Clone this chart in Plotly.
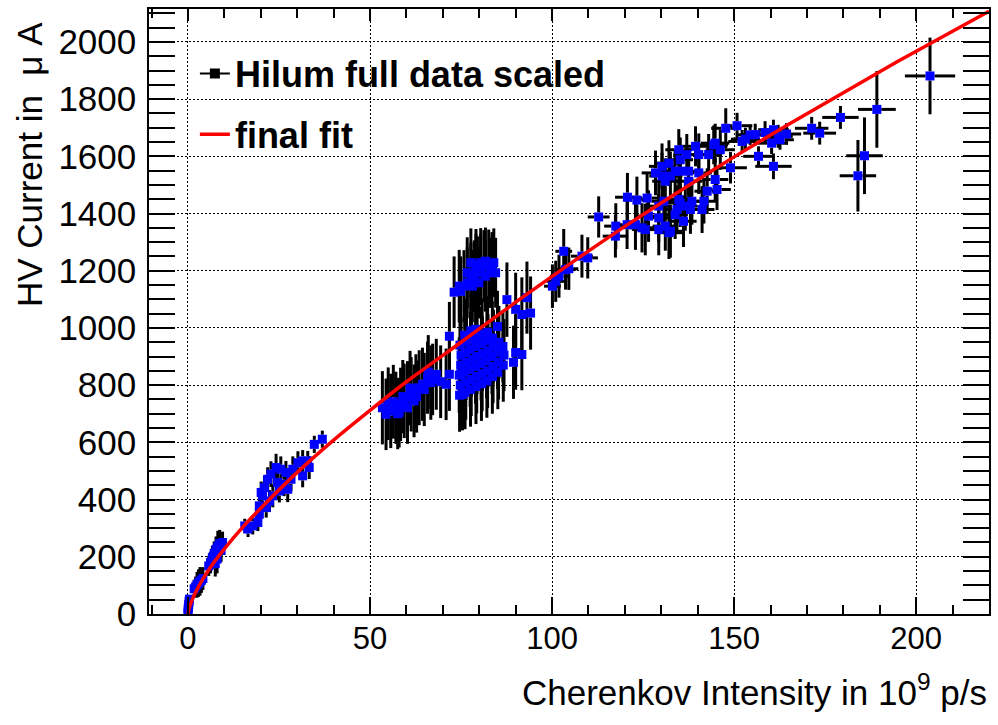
import plotly.graph_objects as go

# ---------------- measurements ----------------
# HV current [uA] versus Cherenkov intensity [1e9 p/s], with uncertainties

# near-zero intensity
ramp0_x = [0.0, 0.05, 0.1, 0.2, 0.3, 0.4]
ramp0_y = [4, 13, 23, 33, 43, 52]
ramp0_ex = [0.2, 0.2, 0.2, 0.2, 0.2, 0.2]
ramp0_ey = [10, 11, 12, 13, 14, 15]

# a few 1e9 p/s
ramp1_x = [1.7, 2.1, 2.5, 2.9, 3.3, 3.7, 4.1]
ramp1_y = [88, 95, 102, 108, 114, 118, 124]
ramp1_ex = [0.3, 0.3, 0.3, 0.3, 0.3, 0.3, 0.3]
ramp1_ey = [32, 36, 45, 48, 50, 44, 40]

ramp2_x = [5.7, 6.2, 6.7, 7.2, 7.5, 7.7, 8.0, 8.2, 8.7, 9.1, 9.5]
ramp2_y = [168, 180, 198, 212, 176, 226, 192, 236, 246, 222, 250]
ramp2_ex = [0.3, 0.3, 0.3, 0.3, 0.3, 0.3, 0.3, 0.3, 0.3, 0.3, 0.3]
ramp2_ey = [35, 38, 40, 42, 45, 45, 50, 55, 48, 40, 38]

# 15 - 37
low_x = [15.6, 16.5, 17.8, 19.2, 19.6, 19.6, 20.1, 20.5, 21.0, 21.5, 21.9, 22.4, 22.8, 23.3, 24.2,
         24.6, 25.1, 25.5, 26.4, 26.9, 27.4, 28.3, 28.8, 30.2, 31.5, 31.5, 32.9, 33.3, 34.7, 36.9]
low_y = [308, 297, 308, 320, 349, 378, 425, 413, 442, 372, 471, 395, 489, 413, 512,
         460, 430, 506, 454, 495, 436, 471, 506, 529, 535, 483, 535, 512, 593, 611]
low_ex = [0.5, 0.5, 0.5, 0.5, 0.5, 0.5, 0.5, 0.5, 0.5, 0.5, 0.5, 0.5, 0.5, 0.5, 0.5,
          0.5, 0.5, 0.5, 0.5, 0.5, 0.5, 0.5, 0.5, 0.5, 0.5, 0.5, 0.5, 0.5, 0.5, 0.5]
low_ey = [25, 28, 30, 30, 35, 35, 38, 40, 40, 35, 42, 38, 45, 40, 48,
          60, 40, 45, 42, 40, 45, 42, 45, 40, 38, 40, 35, 40, 30, 30]

# 53 - 76
mid_x = [53.4, 54.4, 55.7, 57.1, 58.0, 58.4, 59.4, 60.3, 60.3, 61.3, 62.1, 62.6, 63.5, 64.4, 65.8,
         66.7, 68.2, 70.9, 71.8, 74.9, 75.4, 71.8,
         55.0, 56.4, 57.6, 59.0, 61.0, 62.8, 64.9, 67.2, 69.4, 66.0]
mid_y = [721, 698, 710, 721, 704, 733, 745, 721, 756, 768, 745, 779, 791, 803, 826,
         809, 838, 803, 838, 838, 768, 971,
         735, 742, 700, 760, 790, 760, 785, 820, 812, 846]
mid_ex = [0.9, 0.9, 0.9, 0.9, 0.9, 0.9, 0.9, 0.9, 0.9, 0.9, 0.9, 0.9, 0.9, 0.9, 0.9,
          0.9, 0.9, 0.9, 0.9, 0.9, 0.9, 1.0,
          0.9, 0.9, 0.9, 0.9, 0.9, 0.9, 0.9, 0.9, 0.9, 0.9]
mid_ey = [128, 125, 130, 126, 122, 128, 130, 126, 128, 130, 127, 129, 131, 128, 126,
          130, 124, 125, 128, 130, 126, 120,
          127, 129, 124, 128, 130, 126, 128, 125, 127, 129]

# 73 - 85, upper branch
hi_branch_x = [73.1, 74.9, 75.8, 76.7, 77.7, 78.6, 79.5, 80.4, 81.3, 82.6, 83.5, 77.7,
               79.1, 80.4, 81.7, 84.0, 78.1, 79.9, 81.7, 83.1, 74.5, 76.7, 84.5, 79.1]
hi_branch_y = [1125, 1128, 1146, 1158, 1169, 1181, 1193, 1204, 1216, 1222, 1210, 1228,
               1222, 1228, 1233, 1228, 1146, 1158, 1181, 1193, 1146, 1193, 1193, 1204]
hi_branch_ex = [1.0, 1.0, 1.0, 1.0, 1.0, 1.0, 1.0, 1.0, 1.0, 1.0, 1.0, 1.0,
                1.0, 1.0, 1.0, 1.0, 1.0, 1.0, 1.0, 1.0, 1.0, 1.0, 1.0, 1.0]
hi_branch_ey = [125, 122, 126, 124, 128, 125, 127, 124, 126, 122, 125, 120,
                124, 121, 118, 120, 126, 125, 124, 123, 127, 124, 122, 125]

# 74 - 87, lower branch
lo_branch_x = [74.6, 74.8, 74.5, 74.9, 75.0, 74.7,
               76.1, 76.3, 76.0, 76.4, 76.2, 76.5, 76.0,
               77.6, 77.8, 77.5, 77.9, 77.6, 77.9, 77.7,
               79.1, 79.3, 79.0, 79.4, 79.1, 79.3, 79.0,
               80.6, 80.8, 80.5, 80.9, 80.6, 80.8,
               82.1, 82.3, 82.0, 82.4, 82.1, 82.3,
               83.6, 83.8, 83.5, 83.9, 83.6,
               85.1, 85.3, 85.0, 85.4,
               86.6, 86.8, 86.5]
lo_branch_y = [765, 800, 835, 870, 905, 940,
               775, 810, 845, 880, 915, 950, 975,
               785, 820, 855, 890, 925, 960, 990,
               795, 830, 865, 900, 935, 968, 995,
               805, 840, 875, 910, 945, 978,
               815, 850, 885, 920, 955, 985,
               830, 865, 900, 935, 965,
               845, 880, 915, 950,
               870, 905, 935]
lo_branch_ex = [1.0, 1.0, 1.0, 1.0, 1.0, 1.0,
                1.0, 1.0, 1.0, 1.0, 1.0, 1.0, 1.0,
                1.0, 1.0, 1.0, 1.0, 1.0, 1.0, 1.0,
                1.0, 1.0, 1.0, 1.0, 1.0, 1.0, 1.0,
                1.0, 1.0, 1.0, 1.0, 1.0, 1.0,
                1.0, 1.0, 1.0, 1.0, 1.0, 1.0,
                1.0, 1.0, 1.0, 1.0, 1.0,
                1.0, 1.0, 1.0, 1.0,
                1.0, 1.0, 1.0]
lo_branch_ey = [128, 130, 132, 129, 131, 130,
                129, 131, 130, 132, 128, 130, 127,
                130, 128, 131, 129, 132, 130, 128,
                131, 129, 130, 132, 128, 130, 127,
                130, 131, 128, 130, 129, 126,
                129, 130, 131, 128, 130, 127,
                130, 128, 131, 129, 128,
                129, 130, 128, 127,
                128, 126, 125]

# 85 - 94
side_x = [85.0, 87.6, 90.0, 91.7, 93.1, 94.1, 90.0, 91.7, 89.4]
side_y = [1005, 1099, 1065, 1047, 1106, 1052, 914, 907, 880]
side_ex = [1.2, 1.2, 1.2, 1.2, 1.2, 1.2, 1.2, 1.2, 1.2]
side_ey = [125, 130, 128, 130, 126, 128, 130, 125, 128]

# 100 - 113
step_x = [100.1, 101.0, 101.9, 103.7, 104.6, 103.2, 108.2, 109.8, 112.8]
step_y = [1146, 1163, 1181, 1204, 1207, 1268, 1251, 1245, 1388]
step_ex = [2.3, 2.5, 2.5, 2.8, 2.6, 2.3, 3.0, 2.8, 3.0]
step_ey = [76, 72, 75, 70, 74, 78, 75, 72, 72]

# 117 - 146
high_x = [117.5, 117.4, 120.7, 123.3, 126.1, 126.5, 124.7, 129.3, 129.3, 132.1, 133.8, 136.1,
          136.6, 128.4, 130.2, 132.1, 132.5, 134.8, 135.2, 135.2, 137.5, 139.4, 140.3, 143.0,
          144.8, 146.2, 144.8, 145.3, 142.6, 141.7, 141.2, 138.0, 122.9, 125.6, 131.1, 132.5,
          134.3, 134.8, 138.4, 130.7, 131.1, 133.8, 137.5, 140.3, 129.3, 135.2, 144.4, 130.2,
          137.0, 120.6]
high_y = [1356, 1321, 1457, 1447, 1454, 1391, 1350, 1385, 1426, 1333, 1396, 1373,
          1426, 1542, 1531, 1576, 1531, 1623, 1588, 1548, 1548, 1635, 1606, 1606,
          1646, 1623, 1519, 1484, 1478, 1443, 1414, 1414, 1361, 1344, 1356, 1338,
          1414, 1449, 1443, 1443, 1513, 1548, 1513, 1542, 1344, 1437, 1640, 1565,
          1606, 1361]
high_ex = [3.2, 3.5, 3.4, 3.6, 3.3, 3.8, 3.5, 3.6, 3.4, 3.7, 3.5, 3.6,
           3.4, 3.8, 3.5, 3.6, 3.3, 3.7, 3.5, 3.4, 3.6, 3.8, 3.5, 3.7,
           3.9, 4.0, 3.6, 3.8, 3.5, 3.7, 3.4, 3.5, 3.3, 3.6, 3.5, 3.4,
           3.6, 3.5, 3.7, 3.4, 3.6, 3.5, 3.8, 3.6, 3.4, 3.5, 3.9, 3.6,
           3.7, 3.2]
high_ey = [80, 75, 85, 82, 88, 90, 86, 84, 88, 92, 85, 90,
           86, 78, 82, 80, 85, 72, 78, 82, 80, 70, 74, 72,
           68, 70, 75, 72, 80, 78, 82, 85, 88, 90, 86, 92,
           84, 80, 82, 86, 80, 78, 76, 74, 90, 84, 68, 80,
           72, 85]

# 147 - 165
plateau_x = [147.7, 149.0, 150.8, 152.2, 153.1, 154.4, 155.8, 156.7, 158.5, 160.3, 160.8,
             160.8, 162.1, 162.6, 164.4]
plateau_y = [1698, 1560, 1707, 1652, 1660, 1675, 1676, 1600, 1683, 1646, 1565,
             1693, 1670, 1658, 1678]
plateau_ex = [4.0, 4.5, 4.2, 3.8, 4.0, 3.8, 4.0, 4.2, 4.0, 3.8, 5.0,
              4.2, 4.0, 3.8, 4.0]
plateau_ey = [70, 55, 45, 40, 40, 35, 38, 35, 40, 38, 45,
              35, 40, 35, 38]

# 170 - 205
tail_x = [171.3, 173.5, 179.2, 184.0, 185.8, 189.2, 203.8]
tail_y = [1698, 1681, 1736, 1532, 1602, 1764, 1881]
tail_ex = [4.6, 4.5, 5.0, 5.0, 5.0, 5.2, 6.9]
tail_ey = [40, 40, 40, 125, 134, 134, 134]

# final fit curve
fit_x = [0, 0.25, 0.5, 1, 2, 4, 7, 10, 15, 20, 30, 40, 50, 60, 75, 90, 105, 120,
         135, 150, 165, 180, 195, 210, 220]
fit_y = [0, 16, 27, 44, 73, 120, 178, 228, 303, 370, 495, 608, 712, 812, 950, 1090,
         1225, 1355, 1478, 1598, 1712, 1822, 1932, 2037, 2107]

# axis ticks
x_ticks = [0, 50, 100, 150, 200]
y_ticks = [0, 200, 400, 600, 800, 1000, 1200, 1400, 1600, 1800, 2000]

# ---------------- assemble ----------------
groups = [
    (ramp0_x, ramp0_y, ramp0_ex, ramp0_ey),
    (ramp1_x, ramp1_y, ramp1_ex, ramp1_ey),
    (ramp2_x, ramp2_y, ramp2_ex, ramp2_ey),
    (low_x, low_y, low_ex, low_ey),
    (mid_x, mid_y, mid_ex, mid_ey),
    (hi_branch_x, hi_branch_y, hi_branch_ex, hi_branch_ey),
    (lo_branch_x, lo_branch_y, lo_branch_ex, lo_branch_ey),
    (side_x, side_y, side_ex, side_ey),
    (step_x, step_y, step_ex, step_ey),
    (high_x, high_y, high_ex, high_ey),
    (plateau_x, plateau_y, plateau_ex, plateau_ey),
    (tail_x, tail_y, tail_ex, tail_ey),
]
xs, ys, exs, eys = [], [], [], []
for gx, gy, gex, gey in groups:
    xs += gx
    ys += gy
    exs += gex
    eys += gey

W, H = 998, 725
MARGIN = dict(l=149, r=7, t=9, b=111)
X_RANGE = [-10.7, 220]
Y_RANGE = [0, 2115]
MARKER = 9
FONT = "Liberation Sans, Arial, Helvetica, sans-serif"
GRID_DASH = "1.5px,2.5px"

# error bars stop at the edge of their own marker (ROOT style)
plot_w = W - MARGIN["l"] - MARGIN["r"]
plot_h = H - MARGIN["t"] - MARGIN["b"]
gap_x = (MARKER / 2) * (X_RANGE[1] - X_RANGE[0]) / plot_w
gap_y = (MARKER / 2) * (Y_RANGE[1] - Y_RANGE[0]) / plot_h

bar_x, bar_y = [], []
for xi, yi, exi, eyi in zip(xs, ys, exs, eys):
    if eyi > gap_y:
        bar_x += [xi, xi, None, xi, xi, None]
        bar_y += [yi + gap_y, yi + eyi, None, yi - gap_y, yi - eyi, None]
    if exi > gap_x:
        bar_x += [xi + gap_x, xi + exi, None, xi - gap_x, xi - exi, None]
        bar_y += [yi, yi, None, yi, yi, None]

fig = go.Figure()

# legend entry for the data graph
fig.add_trace(go.Scatter(
    x=[None], y=[None], mode="lines+markers", name="Hilum full data scaled",
    line=dict(color="black", width=2),
    marker=dict(symbol="square", size=10, color="black"),
    legendgroup="data", xaxis="x2",
))

# error bars first, markers on top
fig.add_trace(go.Scatter(
    x=bar_x, y=bar_y, mode="lines", showlegend=False, hoverinfo="skip",
    line=dict(color="black", width=3),
))

fig.add_trace(go.Scatter(
    x=xs, y=ys, mode="markers", showlegend=False, hoverinfo="skip",
    marker=dict(symbol="square", size=MARKER, color="#0000ff", line=dict(width=0)),
))

fig.add_trace(go.Scatter(
    x=fit_x, y=fit_y, mode="lines", name="final fit", legendgroup="fit",
    line=dict(color="#ff0000", width=3.5, shape="spline", smoothing=0.6),
))

axis_common = dict(
    showline=True, linecolor="black", linewidth=1.5,
    ticks="inside", tickcolor="black", tickwidth=1.5,
    zeroline=False,
)

fig.update_layout(
    width=W, height=H,
    margin=MARGIN,
    paper_bgcolor="white", plot_bgcolor="white",
    font=dict(family=FONT, color="black"),
    showlegend=True,
    legend=dict(
        x=(195 - MARGIN["l"]) / plot_w, y=0.943, xanchor="left", yanchor="top",
        bgcolor="rgba(0,0,0,0)", borderwidth=0,
        font=dict(family=FONT, size=36, color="black", weight="bold"),
        tracegroupgap=11, itemwidth=30,
    ),
    xaxis=dict(
        axis_common, range=X_RANGE, mirror=True,
        tickvals=x_ticks, ticklen=17,
        minor=dict(ticks="inside", ticklen=9, dtick=10, tick0=0, tickcolor="black",
                   tickwidth=1.5, showgrid=False),
        showgrid=True, gridcolor="black", gridwidth=1, griddash=GRID_DASH,
        tickfont=dict(family=FONT, size=31),
        ticklabelstandoff=-4,
    ),
    xaxis2=dict(
        axis_common, range=X_RANGE, overlaying="x", side="top", showline=False,
        tickvals=x_ticks, ticklen=12, showticklabels=False, showgrid=False,
        minor=dict(ticks="inside", ticklen=9, dtick=10, tick0=0, tickcolor="black",
                   tickwidth=1.5, showgrid=False),
    ),
    yaxis=dict(
        axis_common, range=Y_RANGE, mirror="allticks",
        tickvals=y_ticks, ticklen=26,
        minor=dict(ticks="inside", ticklen=13, dtick=50, tick0=0, tickcolor="black",
                   tickwidth=1.5, showgrid=False),
        showgrid=True, gridcolor="black", gridwidth=1, griddash=GRID_DASH,
        tickfont=dict(family=FONT, size=35),
        ticklabelstandoff=4,
    ),
    annotations=[
        dict(
            text="Cherenkov Intensity in 10<sup>9</sup> p/s",
            xref="paper", yref="paper", x=1.0, y=-0.125,
            xanchor="right", yanchor="middle", showarrow=False,
            font=dict(family=FONT, size=35, color="black"),
        ),
        dict(
            text="HV Current in \u00a0\u03bc A",
            xref="paper", yref="paper", x=-0.142, y=0.982,
            xanchor="center", yanchor="top", textangle=-90, showarrow=False,
            font=dict(family=FONT, size=35, color="black"),
        ),
    ],
)

fig.write_html("out.html")
